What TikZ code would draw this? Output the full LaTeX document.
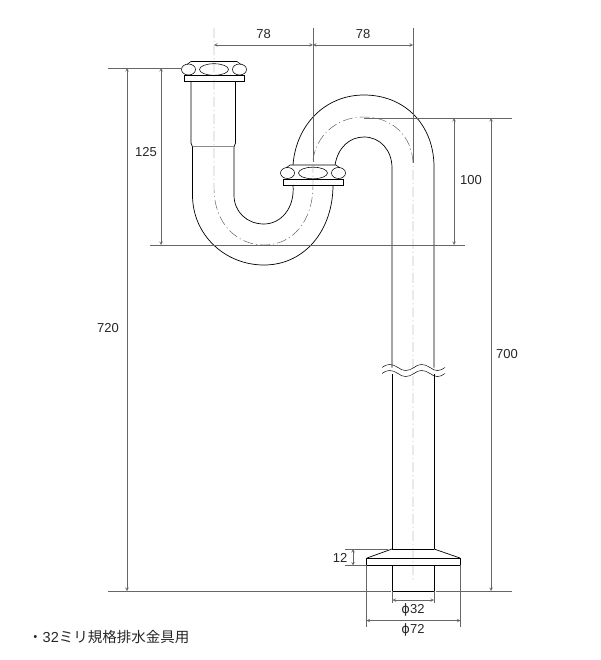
\documentclass[tikz,border=0pt]{standalone}
\usepackage{fontspec}
\setmainfont{Liberation Sans}
\newfontfamily\cjkfont{Noto Sans CJK JP}
\newfontfamily\phifont{DejaVu Sans}
\usetikzlibrary{arrows}
\usetikzlibrary{calc}

\begin{document}
\begin{tikzpicture}[
	x=1pt, y=-1pt,
  > = latex,
  pipe/.style = {draw=black, line width=0.7pt},
  nutline/.style = {draw=black, line width=0.55pt},
  dimline/.style = {draw=black!60, line width=0.6pt},
  dimarrow/.style = {dimline, <->, >=stealth},
  axisline/.style = {draw=black!65, line width=0.45pt, dash pattern=on 10pt off 3pt on 1.2pt off 3pt},
  dimtext/.style = {font=\fontsize{13}{13}\selectfont, text=black!85, inner sep=1pt}
  ]
  	\useasboundingbox (0,0) rectangle (600,660);

	% nut at the top and nut in the middle
	\foreach \cx/\ny in {214/61.5, 313/165}{
		\draw[nutline, fill=white] (\cx-27,\ny+3) -- (\cx-23,\ny) -- (\cx+23,\ny) -- (\cx+27,\ny+3);
		\draw[nutline] (\cx-23,\ny+14) -- (\cx+23,\ny+14);
		\draw[nutline] (\cx,\ny+8) ellipse (14.5pt and 5.8pt);
		\draw[nutline] (\cx-25.5,\ny+8) ellipse (7pt and 5.5pt);
		\draw[nutline] (\cx+25.5,\ny+8) ellipse (7pt and 5.5pt);
		\draw[nutline] (\cx-30,\ny+14) rectangle (\cx+30,\ny+20);
	}

	% pipe
	\draw[pipe] (191,81.5) -- (191,143) -- (192.5,147) -- (192.5,195)
		.. controls (192.5,235) and (225,265) .. (264,265)
		.. controls (305,265) and (333,230) .. (333,185);
	\draw[pipe] (235.5,81.5) -- (235.5,143) -- (234,147) -- (234,195)
		.. controls (234,212) and (247,224) .. (264,224)
		.. controls (281,224) and (295,208) .. (293,185);
	\draw[black!45, line width=0.6pt] (192.5,146) -- (234,146);
	\draw[pipe] (293,165) .. controls (296,125) and (325,95) .. (364,95)
		.. controls (405,95) and (434,125) .. (434,167) -- (434,367.5);
	\draw[pipe] (335,165) .. controls (338,147) and (350,137) .. (364,137)
		.. controls (380,137) and (392,150) .. (392,168) -- (392,367.5);
	\draw[pipe] (392,374) -- (392,549);
	\draw[pipe] (434,374) -- (434,549);

	% break in the long pipe
	\foreach \wy in {367.5,373.5}{
		\draw[black, line width=0.5pt] (382,\wy) .. controls (387,\wy-4) and (392,\wy-4) .. (398,\wy)
			.. controls (403,\wy+4) and (408,\wy+4) .. (414,\wy)
			.. controls (419,\wy-4) and (424,\wy-4) .. (430,\wy)
			.. controls (435,\wy+4) and (440,\wy+4) .. (445,\wy);
	}

	% foot
	\draw[pipe] (392,549) -- (434,549);
	\draw[pipe] (392,549) -- (367,558);
	\draw[pipe] (434,549) -- (460,558);
	\draw[pipe] (366.5,558) rectangle (460.5,565);
	\draw[pipe] (392.5,565) -- (392.5,591) -- (434,591) -- (434,565);

	% centre lines
	\draw[axisline] (214,28) -- (214,190)
		.. controls (215,225) and (238,245) .. (264,245)
		.. controls (292,245) and (313,222) .. (313,185) -- (313,165);
	\draw[axisline] (313,160) .. controls (316,137) and (335,117) .. (364,117)
		.. controls (393,117) and (413,137) .. (413,165) -- (413,582);

	% dimension lines
	\coordinate (topL) at (214,45);
	\coordinate (topM) at (313,45);
	\coordinate (topR) at (413,45);
	\draw[dimline] (313,28) -- (313,162);
	\draw[dimline] (413,28) -- (413,163);
	\draw[dimarrow] (topL) -- (topM) node[midway, above=5pt, dimtext] (lblA) {78};
	\draw[dimarrow] (topM) -- (topR) node[midway, above=5pt, dimtext] (lblB) {78};

	\draw[dimline] (108,68) -- (181,68);
	\draw[dimline] (150,245) -- (465,245);
	\draw[dimline] (364,118) -- (512,118);
	\draw[dimline] (108,591) -- (391,591);
	\draw[dimline] (436,591) -- (512,591);

	\coordinate (a) at (127,68);
	\coordinate (b) at (127,591);
	\coordinate (c) at (161,68);
	\coordinate (d) at (161,245);
	\coordinate (e) at (454,118);
	\coordinate (f) at (454,245);
	\coordinate (g) at (491,118);
	\coordinate (h) at (491,591);
	\draw[dimarrow] (a) -- (b);
	\draw[dimarrow] (c) -- (d);
	\draw[dimarrow] (e) -- (f);
	\draw[dimarrow] (g) -- (h);

	\node[dimtext] (lblC) at (108,328) {720};
	\node[dimtext] (lblD) at (146,152) {125};
	\node[dimtext] (lblE) at (471,180) {100};
	\node[dimtext] (lblF) at (507,354) {700};

	% dimensions of the foot
	\draw[dimline] (345,549) -- (388,549);
	\draw[dimline] (345,565.5) -- (366,565.5);
	\coordinate (i) at (353,549);
	\coordinate (j) at (353,565.5);
	\draw[dimarrow] (i) -- (j);
	\node[dimtext] (lblG) at (340,558) {12};

	\draw[dimline] (392.5,591) -- (392.5,603);
	\draw[dimline] (434,591) -- (434,603);
	\draw[dimline] (366.5,565) -- (366.5,627);
	\draw[dimline] (460.5,565) -- (460.5,627);
	\coordinate (k) at (392.5,600);
	\coordinate (l) at (434,600);
	\coordinate (m) at (366.5,620.5);
	\coordinate (n) at (460.5,620.5);
	\draw[dimarrow] (k) -- (l);
	\draw[dimarrow] (m) -- (n);
	\node[dimtext] (lblH) at (413,610) {{\phifont ϕ}32};
	\node[dimtext] (lblI) at (413,630) {{\phifont ϕ}72};

	\node[anchor=west, inner sep=0pt, font=\fontsize{14.5}{15}\selectfont, text=black!85] (note) at (28,637) {{\cjkfont ・}32{\cjkfont ミリ規格排水金具用}};

\end{tikzpicture}
\end{document}
